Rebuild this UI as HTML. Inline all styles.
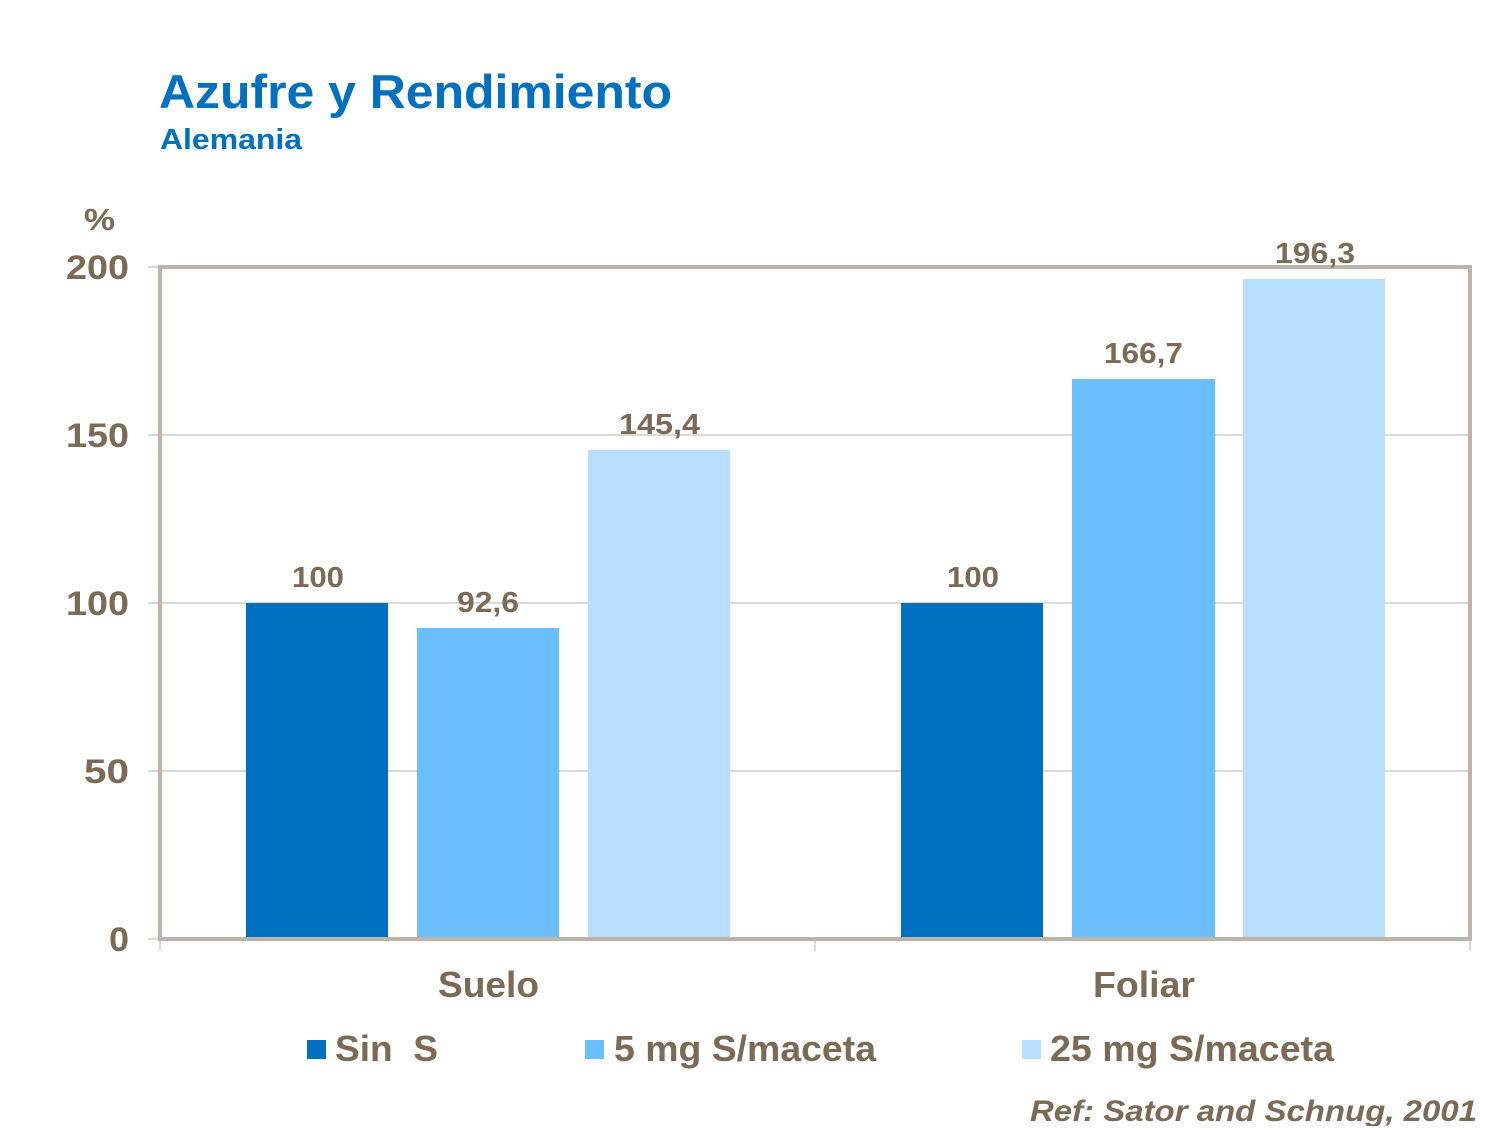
<!DOCTYPE html>
<html><head><meta charset="utf-8"><style>
body{margin:0;background:#fff}
svg text{font-family:"Liberation Sans",Arial,sans-serif;font-weight:bold}
</style></head><body>
<svg width="1500" height="1126" xmlns="http://www.w3.org/2000/svg">
<text x="159" y="108" font-size="47" fill="#0070C0" textLength="513" lengthAdjust="spacingAndGlyphs">Azufre y Rendimiento</text>
<text x="160" y="149" font-size="29" fill="#0070C0" textLength="142" lengthAdjust="spacingAndGlyphs">Alemania</text>
<g fill="#7B6A55">
<text x="84" y="230" font-size="31" textLength="31" lengthAdjust="spacingAndGlyphs">%</text>
<g font-size="34">
<text x="66" y="279" textLength="63" lengthAdjust="spacingAndGlyphs">200</text>
<text x="66" y="447" textLength="63" lengthAdjust="spacingAndGlyphs">150</text>
<text x="66" y="615" textLength="63" lengthAdjust="spacingAndGlyphs">100</text>
<text x="84" y="783" textLength="45" lengthAdjust="spacingAndGlyphs">50</text>
<text x="109" y="951" textLength="20" lengthAdjust="spacingAndGlyphs">0</text>
</g>
</g>
<g stroke="#BDB3A8" stroke-width="1">
<line x1="160" y1="435" x2="1470" y2="435"/>
<line x1="160" y1="603" x2="1470" y2="603"/>
<line x1="160" y1="771" x2="1470" y2="771"/>
<line x1="148" y1="267" x2="160" y2="267"/>
<line x1="148" y1="435" x2="160" y2="435"/>
<line x1="148" y1="603" x2="160" y2="603"/>
<line x1="148" y1="771" x2="160" y2="771"/>
<line x1="148" y1="939" x2="160" y2="939"/>
<line x1="160" y1="939" x2="160" y2="951"/>
<line x1="815" y1="939" x2="815" y2="951"/>
<line x1="1470" y1="939" x2="1470" y2="951"/>
</g>
<rect x="246" y="603" width="142" height="336" fill="#0070C0"/>
<rect x="417" y="628" width="142" height="311" fill="#6BBFFF"/>
<rect x="588" y="450" width="142" height="489" fill="#B8DFFF"/>
<rect x="901" y="603" width="142" height="336" fill="#0070C0"/>
<rect x="1072" y="379" width="143" height="560" fill="#6BBFFF"/>
<rect x="1243" y="279" width="142" height="660" fill="#B8DFFF"/>
<rect x="160" y="267" width="1310" height="672" fill="none" stroke="#BDB3A8" stroke-width="4"/>
<g fill="#7B6A55" font-size="29">
<text x="292" y="587" textLength="52" lengthAdjust="spacingAndGlyphs">100</text>
<text x="457" y="612" textLength="62" lengthAdjust="spacingAndGlyphs">92,6</text>
<text x="619" y="434" textLength="81" lengthAdjust="spacingAndGlyphs">145,4</text>
<text x="947" y="587" textLength="52" lengthAdjust="spacingAndGlyphs">100</text>
<text x="1104" y="363" textLength="79" lengthAdjust="spacingAndGlyphs">166,7</text>
<text x="1275" y="263" textLength="80" lengthAdjust="spacingAndGlyphs">196,3</text>
</g>
<g fill="#7B6A55" font-size="36">
<text x="438" y="997" textLength="101" lengthAdjust="spacingAndGlyphs">Suelo</text>
<text x="1093" y="997" textLength="102" lengthAdjust="spacingAndGlyphs">Foliar</text>
</g>
<rect x="307" y="1040" width="19" height="19" fill="#0070C0"/>
<rect x="585" y="1040" width="19" height="19" fill="#6BBFFF"/>
<rect x="1022" y="1040" width="19" height="19" fill="#B8DFFF"/>
<g fill="#7B6A55" font-size="36">
<text x="335" y="1061" textLength="103" lengthAdjust="spacingAndGlyphs" xml:space="preserve">Sin  S</text>
<text x="614" y="1061" textLength="262" lengthAdjust="spacingAndGlyphs">5 mg S/maceta</text>
<text x="1050" y="1061" textLength="284" lengthAdjust="spacingAndGlyphs">25 mg S/maceta</text>
</g>
<text x="1030" y="1121" font-size="30" font-style="italic" fill="#7B6A55" textLength="447" lengthAdjust="spacingAndGlyphs">Ref: Sator and Schnug, 2001</text>
</svg>
</body></html>
